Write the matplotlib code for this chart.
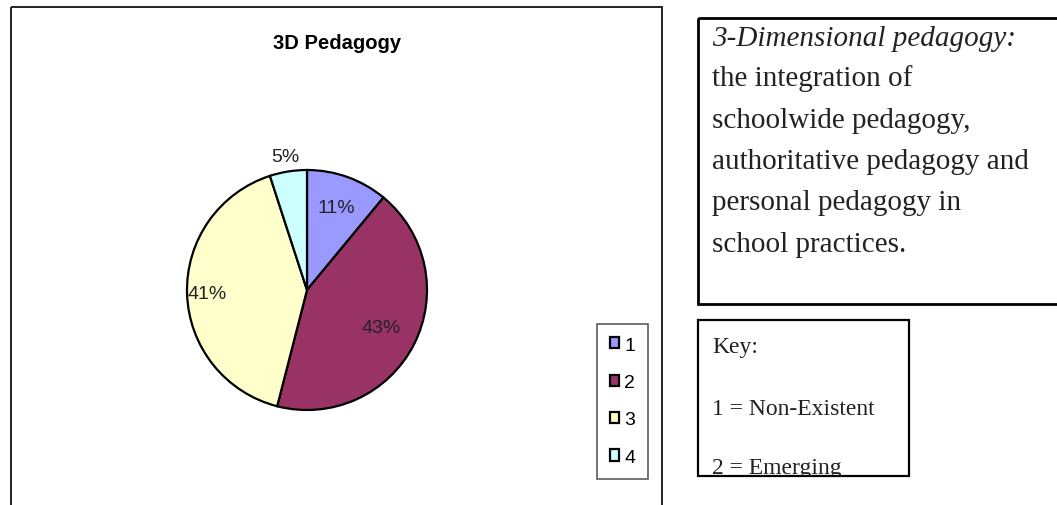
import numpy as np
import matplotlib.pyplot as plt
from matplotlib.patches import Rectangle

# data
categories = ['1', '2', '3', '4']
shares = [11, 43, 41, 5]
colors = ['#9999FF', '#993366', '#FFFFCC', '#CCFFFF']
label_dist = [0.73, 0.69, 0.83, 1.13]

title = '3D Pedagogy'
note_head = '3-Dimensional pedagogy:'
note_lines = ['the integration of', 'schoolwide pedagogy,',
              'authoritative pedagogy and', 'personal pedagogy in',
              'school practices.']
key_lines = ['Key:', '1 = Non-Existent', '2 = Emerging']

W, H = 1057, 506
fig = plt.figure(figsize=(W / 100, H / 100), dpi=100)

# overlay in pixel coordinates for frames and text boxes
ov = fig.add_axes([0, 0, 1, 1])
ov.set_xlim(0, W)
ov.set_ylim(H, 0)
ov.axis('off')

# chart frame (bottom runs off the page)
ov.add_patch(Rectangle((11, 8), 651, 520, fill=False, edgecolor='#222222', lw=1.4))
ov.text(337, 43, title, ha='center', va='center', fontsize=14.5,
        fontweight='bold', family='Liberation Sans')

# definition box
ov.add_patch(Rectangle((698, 19), 380, 286, fill=False, edgecolor='black', lw=2))
serif = 'Liberation Serif'
ov.text(712, 39, note_head, ha='left', va='center', fontsize=21,
        style='italic', family=serif, color='#222222')
for i, line in enumerate(note_lines):
    ov.text(712, 79 + i * 41.5, line, ha='left', va='center', fontsize=21,
            family=serif, color='#222222')

# key box, last line is cut off by the box
key_box = Rectangle((698, 321), 211, 156, fill=False, edgecolor='black', lw=1.6)
ov.add_patch(key_box)
key_y = [347, 410, 474]
for line, y in zip(key_lines, key_y):
    t = ov.text(712, y, line, ha='left', va='center' if y < 460 else 'baseline',
                fontsize=17, family=serif, color='#222222')
    t.set_clip_path(key_box)
    t.set_clip_on(True)

# pie
cx, cy, r = 307, 291, 120
pax = fig.add_axes([(cx - 1.25 * r) / W, (H - cy - 1.25 * r) / H,
                    2.5 * r / W, 2.5 * r / H])
wedges, _ = pax.pie(shares, colors=colors, startangle=90, counterclock=False,
                    wedgeprops=dict(edgecolor='black', linewidth=1.6))
total = sum(shares)
for w, v, d in zip(wedges, shares, label_dist):
    mid = np.deg2rad((w.theta1 + w.theta2) / 2)
    pax.text(d * np.cos(mid), d * np.sin(mid), f'{v / total * 100:.0f}%',
             ha='center', va='center', fontsize=14, family='Liberation Sans',
             color='#222222')

leg = fig.legend(wedges, categories, loc='upper left',
                 bbox_to_anchor=(597 / W, 1 - 325 / H), borderaxespad=0,
                 frameon=True, fancybox=False, edgecolor='#333333',
                 handlelength=0.5, handleheight=0.5, handletextpad=0.25,
                 labelspacing=1.05, borderpad=0.65,
                 prop={'family': 'Liberation Sans', 'size': 14})
leg.get_frame().set_linewidth(1.2)

fig.savefig('out.png', dpi=100)
